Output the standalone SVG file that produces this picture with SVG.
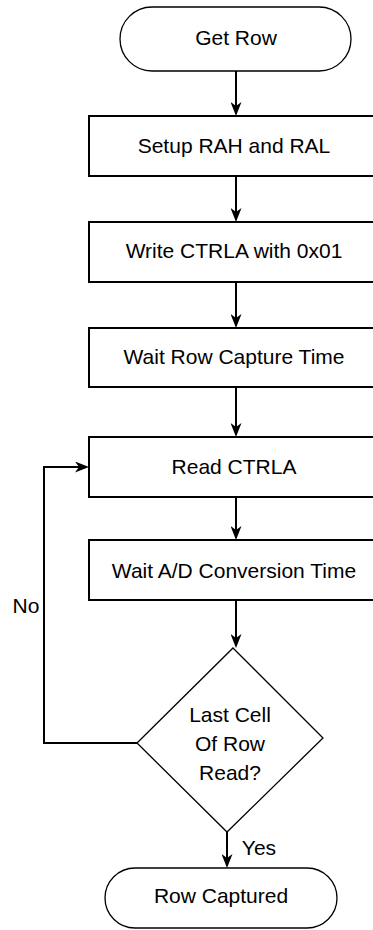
<svg xmlns="http://www.w3.org/2000/svg" width="373" height="930" viewBox="0 0 373 930">
  <style>
    text { font-family: "Liberation Sans", Arial, sans-serif; font-size: 21px; fill: #000; text-anchor: middle; }
    .box { fill: #fff; stroke: #000; stroke-width: 2; }
    .term { fill: #fff; stroke: #000; stroke-width: 1.3; }
    .flow { fill: none; stroke: #000; stroke-width: 2; }
  </style>
  <defs>
    <marker id="arrow" markerUnits="userSpaceOnUse" viewBox="0 0 14 11" markerWidth="14" markerHeight="11" refX="4" refY="5.5" orient="auto">
      <path d="M0,0 L14,5.5 L0,11 L4,5.5 Z" fill="#000"/>
    </marker>
  </defs>

  <!-- connectors -->
  <g id="connectors">
    <line class="flow" x1="236" y1="71" x2="236" y2="106" marker-end="url(#arrow)"/>
    <line class="flow" x1="236" y1="176" x2="236" y2="212" marker-end="url(#arrow)"/>
    <line class="flow" x1="236" y1="282" x2="236" y2="318" marker-end="url(#arrow)"/>
    <line class="flow" x1="236" y1="387" x2="236" y2="427" marker-end="url(#arrow)"/>
    <line class="flow" x1="236" y1="497" x2="236" y2="530" marker-end="url(#arrow)"/>
    <line class="flow" x1="236" y1="600" x2="236" y2="638" marker-end="url(#arrow)"/>
    <polyline class="flow" points="137,743 44,743 44,467 79,467" marker-end="url(#arrow)"/>
    <line class="flow" x1="227" y1="832" x2="227" y2="858" marker-end="url(#arrow)"/>
    <text x="26" y="613">No</text>
    <text x="259" y="855">Yes</text>
  </g>

  <g id="start">
    <rect class="term" x="120" y="7" width="231" height="64" rx="32"/>
    <text x="236" y="45">Get Row</text>
  </g>

  <g id="setup">
    <rect class="box" x="89" y="116" width="290" height="60"/>
    <text x="234" y="153">Setup RAH and RAL</text>
  </g>

  <g id="write">
    <rect class="box" x="89" y="222" width="290" height="60"/>
    <text x="234" y="258">Write CTRLA with 0x01</text>
  </g>

  <g id="wait-capture">
    <rect class="box" x="89" y="328" width="290" height="59"/>
    <text x="234" y="364">Wait Row Capture Time</text>
  </g>

  <g id="read">
    <rect class="box" x="89" y="437" width="290" height="60"/>
    <text x="234" y="474">Read CTRLA</text>
  </g>

  <g id="wait-ad">
    <rect class="box" x="89" y="540" width="290" height="60"/>
    <text x="234" y="578">Wait A/D Conversion Time</text>
  </g>

  <g id="decision">
    <polygon points="233,648 323,738 227,832 137,743" fill="#fff" stroke="#000" stroke-width="1.3"/>
    <text x="230" y="722">Last Cell</text>
    <text x="230" y="751">Of Row</text>
    <text x="230" y="780">Read?</text>
  </g>

  <g id="end">
    <rect class="term" x="105" y="868" width="232" height="60" rx="30"/>
    <text x="221" y="903">Row Captured</text>
  </g>
</svg>
